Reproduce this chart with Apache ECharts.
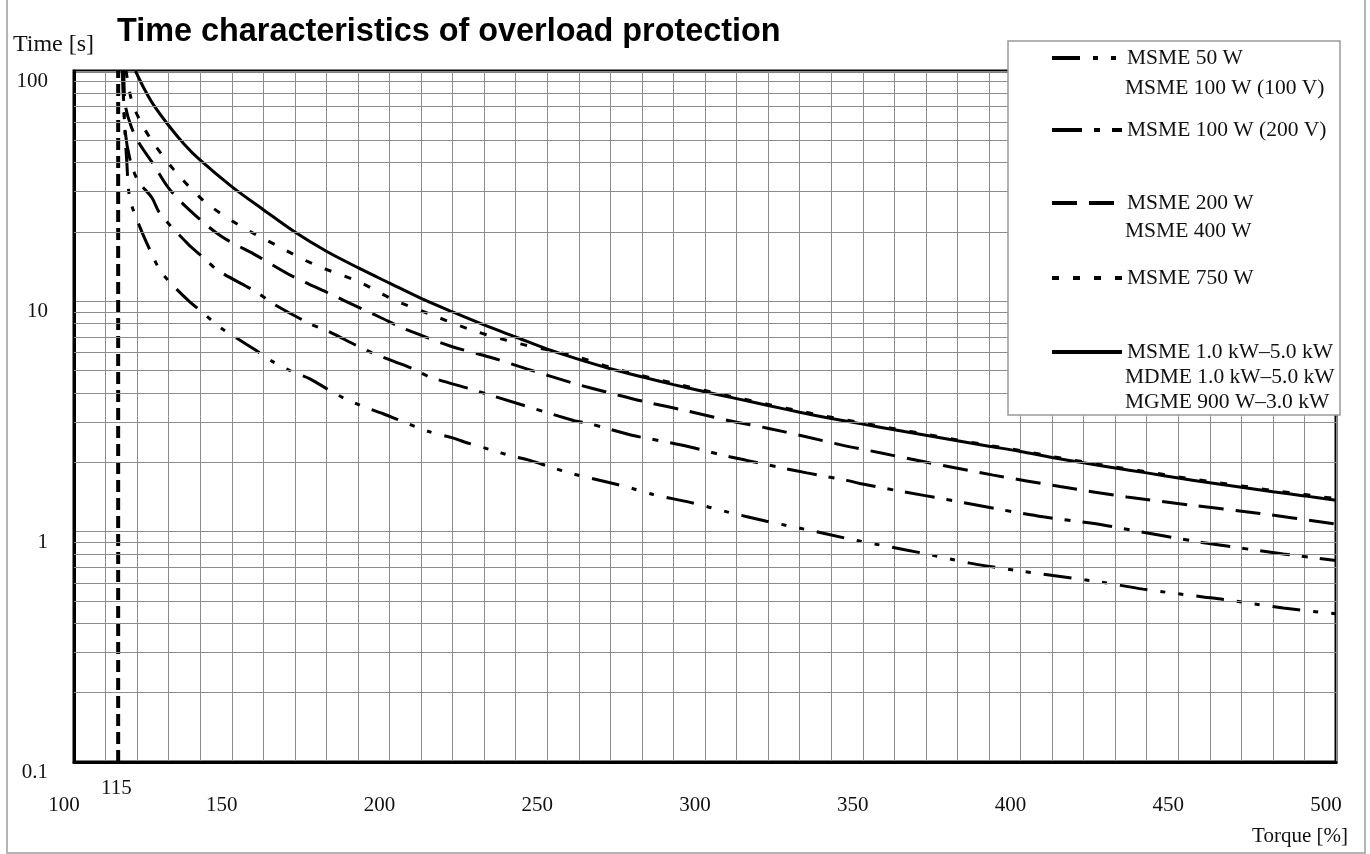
<!DOCTYPE html>
<html><head><meta charset="utf-8">
<script src="https://cdn.jsdelivr.net/npm/echarts@6/dist/echarts.min.js"></script>
<style>html,body{margin:0;padding:0;background:#fff}#c{width:1370px;height:854px}</style>
</head><body><div id="c"></div>
<script>
// ---- data ----
const titleText = 'Time characteristics of overload protection';
const xTickLabels = [100, 150, 200, 250, 300, 350, 400, 450, 500];
const xExtraTick = [115];
const yTickLabels = [0.1, 1, 10, 100];
const limitTorque = 114;   // vertical limit line (drawn at the 115 % mark)

const seriesNames = ['MSME 50 W', 'MSME 100 W (200 V)', 'MSME 200 W', 'MSME 750 W', 'MSME 1.0 kW\u20135.0 kW'];
const legendExtraLines = [['MSME 100 W (100 V)'], [], ['MSME 400 W'], [], ['MDME 1.0 kW\u20135.0 kW', 'MGME 900 W\u20133.0 kW']];

const curve50W = [[115.3,100],[116.0,60],[116.7,41],[117.7,28],[120.9,21],[124.6,16.1],[127.3,13.6],[130.4,12.1],[136.2,10.1],[140.5,9.0],[146.3,7.7],[151,7.0],[157.9,6.1],[162.7,5.5],[169.5,4.93],[174.8,4.61],[181.1,4.10],[185.9,3.78],[192.2,3.47],[198,3.25],[203.3,3.04],[212.8,2.71],[219.7,2.56],[225.5,2.41],[232.9,2.25],[238.2,2.14],[244.5,2.04],[250.9,1.91],[258.3,1.78],[269.9,1.63],[276.2,1.55],[283.6,1.45],[295.3,1.34],[307.9,1.21],[319.5,1.11],[332.3,1.02],[344.9,0.935],[355.5,0.875],[370.3,0.80],[384,0.73],[399.8,0.675],[407.2,0.654],[425.2,0.605],[438.9,0.563],[457.9,0.521],[464.3,0.508],[483.3,0.466],[500,0.44]];
const curve100W = [[115.5,100],[116.2,55],[118,40],[120.5,33],[124.6,28.3],[127.3,24],[136.2,17.7],[141,15.5],[145.7,13.6],[157.9,10.96],[163.2,9.75],[174.8,7.99],[180.1,7.47],[192.8,6.12],[201.2,5.5],[207.5,5.09],[212.8,4.69],[225.5,4.17],[231.3,3.94],[258.3,3.04],[263.5,2.94],[276.8,2.62],[282.6,2.53],[295.3,2.33],[307.4,2.12],[313.2,2.04],[325.4,1.88],[332.3,1.80],[344.9,1.67],[349.1,1.62],[362.9,1.49],[376.6,1.38],[392,1.26],[407.2,1.16],[426.2,1.07],[432.6,1.03],[456.9,0.90],[464.3,0.87],[483.3,0.80],[500,0.75]];
const curve200W = [[115.8,100],[116.2,72],[118,58],[120.5,49],[125.1,39.5],[130,31],[136.2,25.2],[146.3,19.3],[157.9,15.8],[169,12.9],[180.1,10.95],[191.2,9.28],[197,8.53],[203.3,7.75],[207.5,7.35],[219.2,6.4],[231.9,5.72],[243.5,5.09],[258.3,4.41],[269.9,4.0],[281.5,3.65],[293.7,3.36],[307.4,3.04],[319.5,2.82],[331.7,2.59],[343.8,2.37],[355.5,2.2],[370.3,2.0],[391.4,1.76],[412.5,1.57],[433.7,1.415],[454.8,1.30],[475.9,1.20],[500,1.08]];
const curve750W = [[116.5,100],[118.3,74],[120.9,61],[124.6,50],[131.5,37.5],[141,27.4],[151.6,21.7],[164.2,17.5],[175.9,14.5],[190.6,12.1],[201,10.2],[214,8.67],[226.6,7.46],[241.4,6.54],[258,5.82],[270,5.17],[280,4.76],[290,4.41],[300,4.1],[310,3.82],[320,3.57],[330,3.34],[340,3.14],[350,2.96],[360,2.8],[370,2.65],[380,2.5],[390,2.37],[400,2.25],[410,2.12],[420,2.01],[430,1.91],[440,1.82],[450,1.73],[460,1.65],[470,1.58],[480,1.51],[490,1.45],[500,1.39]];
const curve1kW = [[119.5,100],[122,85],[125,72],[130,58],[135,48],[140,41],[150,31.5],[160,25],[170,20],[180,16.5],[190,14],[200,12],[210,10.3],[220,9],[230,7.9],[240,7.0],[250,6.2],[260,5.6],[270,5.1],[280,4.7],[290,4.35],[300,4.05],[310,3.78],[320,3.53],[330,3.3],[340,3.1],[350,2.93],[360,2.77],[370,2.62],[380,2.48],[390,2.35],[400,2.23],[410,2.10],[420,1.99],[430,1.89],[440,1.80],[450,1.71],[460,1.63],[470,1.56],[480,1.49],[490,1.43],[500,1.37]];
const curves = [curve50W, curve100W, curve200W, curve750W, curve1kW];

// ---- styles ----
const dashes = [[28,13,5,13,5,13],[30,12,6,12],[25,12],[7,14],'solid'];
const serif = '"Liberation Serif","Times New Roman",serif';
const legendY = [58, 130, 203, 278, 352];
const extraLineGap = [30, 0, 28, 0, 25];

// minor log grid values (2..9 of every decade)
const minorVals = [];
[0.1, 1, 10].forEach(d => { for (let k = 2; k <= 9; k++) minorVals.push(+(d * k).toPrecision(3)); });

const chart = echarts.init(document.getElementById('c'));

const series = curves.map((d, i) => ({
  name: seriesNames[i], type: 'line', data: d, symbol: 'none', smooth: 0.3, z: 3,
  lineStyle: { color: '#000', width: 3, type: dashes[i], cap: 'butt' }
}));
series.push({
  name: 'limit', type: 'line', symbol: 'none', z: 4,
  data: [[limitTorque, yTickLabels[0]], [limitTorque, yTickLabels[yTickLabels.length - 1]]],
  lineStyle: { color: '#000', width: 4, type: [12, 6] }
});
series.push({
  name: 'minorGrid', type: 'line', data: [], z: 1, silent: true,
  markLine: { silent: true, symbol: 'none', label: { show: false }, animation: false,
    lineStyle: { color: '#8c8c8c', width: 1, type: 'solid' },
    data: minorVals.map(v => ({ yAxis: v })) }
});

const legends = seriesNames.map((n, i) => ({
  data: [n], left: 1050, top: legendY[i] - 12, orient: 'horizontal', padding: 0,
  itemWidth: 70, itemHeight: 14, itemGap: 0, selectedMode: false, z: 60,
  itemStyle: { opacity: 0 },
  lineStyle: { width: 4 },
  textStyle: { fontFamily: serif, fontSize: 21.5, color: '#111', lineHeight: 24 }
}));

const graphics = [
  { type: 'rect', z: 0, silent: true, shape: { x: 7, y: -3, width: 1358, height: 856 },
    style: { fill: 'none', stroke: '#b4b4b4', lineWidth: 2 } },
  { type: 'rect', z: 50, silent: true, shape: { x: 1008, y: 41, width: 332, height: 374 },
    style: { fill: '#fff', stroke: '#9a9a9a', lineWidth: 1.5 } }
];
legendExtraLines.forEach((lines, i) => {
  lines.forEach((t, j) => {
    graphics.push({ type: 'text', z: 60, silent: true, x: 1125, y: legendY[i] + extraLineGap[i] * (j + 1),
      style: { text: t, font: '21.5px ' + serif, fill: '#111', verticalAlign: 'middle', align: 'left' } });
  });
});

const option = {
  animation: false,
  backgroundColor: '#fff',
  title: { text: titleText, left: 117, top: 16, padding: 0,
    textStyle: { fontFamily: '"Liberation Sans",Arial,sans-serif', fontWeight: 'bold', fontSize: 32.4, color: '#000' } },
  grid: { left: 74, right: 34, top: 71, bottom: 92, show: true, borderColor: '#000', borderWidth: 3, backgroundColor: 'transparent' },
  legend: legends,
  xAxis: [{
    type: 'value', min: 100, max: 500, interval: 10,
    name: 'Torque [%]', nameLocation: 'end', nameGap: 12,
    nameTextStyle: { fontFamily: serif, fontSize: 21, color: '#111', align: 'right', verticalAlign: 'top', padding: [64, 0, 0, 0] },
    axisLine: { show: true, lineStyle: { color: '#000', width: 3 } },
    axisTick: { show: false },
    splitLine: { show: true, lineStyle: { color: '#8c8c8c', width: 1 } },
    axisLabel: { customValues: xTickLabels, margin: 33, fontFamily: serif, fontSize: 21, color: '#111', padding: [0, 20, 0, 0] }
  }, {
    type: 'value', min: 100, max: 500, interval: 10, position: 'bottom',
    axisLine: { show: false }, axisTick: { show: false }, splitLine: { show: false },
    axisLabel: { customValues: xExtraTick, margin: 16, fontFamily: serif, fontSize: 21, color: '#111', padding: [0, 10, 0, 0] }
  }],
  yAxis: {
    type: 'log', logBase: 10, min: 0.1, max: 100, splitNumber: 3,
    name: 'Time [s]', nameLocation: 'end', nameGap: 14,
    nameTextStyle: { fontFamily: serif, fontSize: 24, color: '#111', padding: [0, 41, 0, 0] },
    axisLine: { show: true, lineStyle: { color: '#000', width: 3 } },
    axisTick: { show: false },
    splitLine: { show: true, lineStyle: { color: '#8c8c8c', width: 1 } },
    axisLabel: { margin: 26, fontFamily: serif, fontSize: 21, color: '#111', verticalAlign: 'top',
      formatter: v => String(+(+v).toPrecision(3)) }
  },
  graphic: graphics,
  series: series
};
chart.setOption(option);
</script></body></html>
